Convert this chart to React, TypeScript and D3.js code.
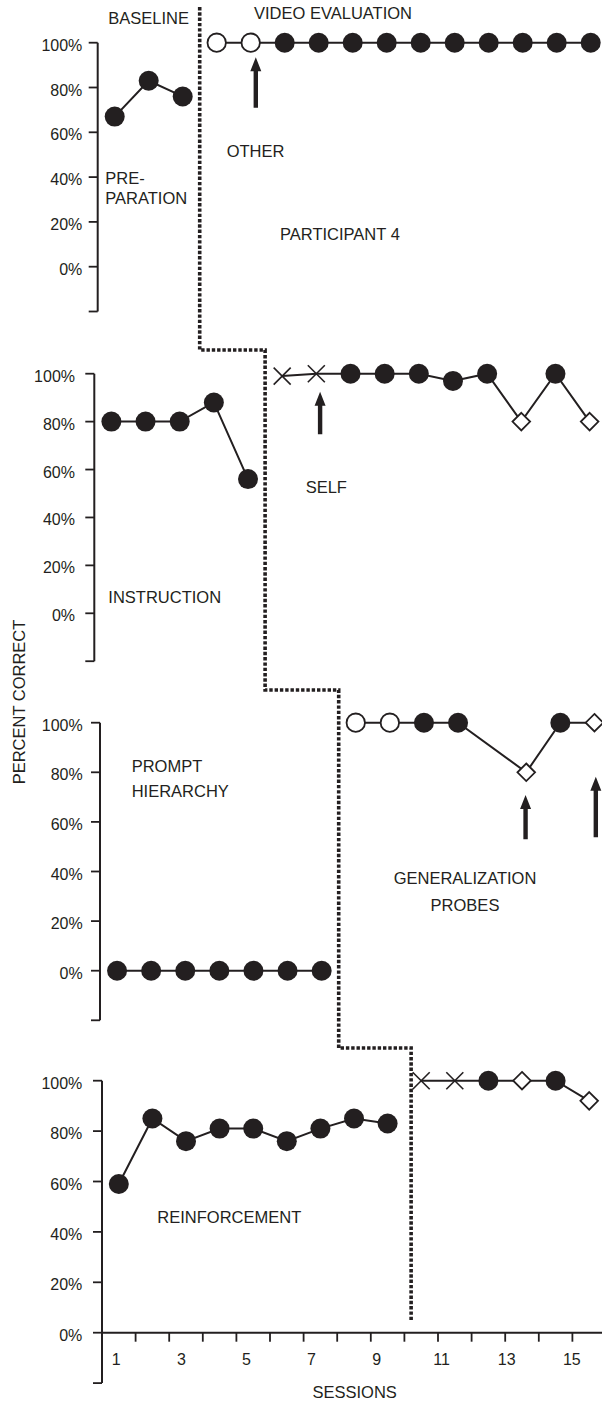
import React from "react";
import * as d3 from "d3";

// ---- Data -------------------------------------------------------------
const yTicks = [-20, 0, 20, 40, 60, 80, 100];
const yTickLabels = ["", "0%", "20%", "40%", "60%", "80%", "100%"];
const sessionTicks = d3.range(1, 17);
const sessionLabels = [1, 3, 5, 7, 9, 11, 13, 15];

// Preparation
const prepBaseSessions = [1, 2, 3];
const prepBaseValues = [67, 83, 76];
const prepTreatSessions = [4, 5, 6, 7, 8, 9, 10, 11, 12, 13, 14, 15];
const prepTreatValues = [100, 100, 100, 100, 100, 100, 100, 100, 100, 100, 100, 100];
const prepTreatMarkers = ["open", "open", "filled", "filled", "filled", "filled", "filled", "filled", "filled", "filled", "filled", "filled"];

// Instruction
const instrBaseSessions = [1, 2, 3, 4, 5];
const instrBaseValues = [80, 80, 80, 88, 56];
const instrTreatSessions = [6, 7, 8, 9, 10, 11, 12, 13, 14, 15];
const instrTreatValues = [99, 100, 100, 100, 100, 97, 100, 80, 100, 80];
const instrTreatMarkers = ["cross", "cross", "filled", "filled", "filled", "filled", "filled", "diamond", "filled", "diamond"];

// Prompt hierarchy
const promptBaseSessions = [1, 2, 3, 4, 5, 6, 7];
const promptBaseValues = [0, 0, 0, 0, 0, 0, 0];
const promptTreatSessions = [8, 9, 10, 11, 13, 14, 15];
const promptTreatValues = [100, 100, 100, 100, 80, 100, 100];
const promptTreatMarkers = ["open", "open", "filled", "filled", "diamond", "filled", "diamond"];

// Reinforcement
const reinfBaseSessions = [1, 2, 3, 4, 5, 6, 7, 8, 9];
const reinfBaseValues = [59, 85, 76, 81, 81, 76, 81, 85, 83];
const reinfTreatSessions = [10, 11, 12, 13, 14, 15];
const reinfTreatValues = [100, 100, 100, 100, 100, 92];
const reinfTreatMarkers = ["cross", "cross", "filled", "diamond", "filled", "diamond"];

// Arrows marking probe / evaluation points: [session, from %, to %]
const prepArrows = [[5.15, 71, 93.5]];
const instrArrows = [[7.11, 74.7, 92.5]];
const promptArrows = [[12.98, 53, 70.8], [15.04, 53.8, 78.2]];
const reinfArrows: number[][] = [];

// Phase change position (session boundary) per panel
const phaseChange = [3.5, 5.5, 7.5, 9.7];

// ---- Layout -----------------------------------------------------------
const W = 602;
const H = 1404;
const INK = "#231f20";
const FONT = "'Liberation Sans', Arial, Helvetica, sans-serif";

type Panel = {
  axisX: number;
  step: number;
  y100: number;
  y0: number;
  labelRight: number;
  baseS: number[];
  baseV: number[];
  treatS: number[];
  treatV: number[];
  treatM: string[];
  arrows: number[][];
  phase: number;
  top: number;
  bottom: number;
};

const panels: Panel[] = [
  { axisX: 97.7, step: 34.0, y100: 42.7, y0: 266.7, labelRight: 82.3,
    baseS: prepBaseSessions, baseV: prepBaseValues, treatS: prepTreatSessions, treatV: prepTreatValues, treatM: prepTreatMarkers,
    arrows: prepArrows, phase: phaseChange[0], top: 7, bottom: 350 },
  { axisX: 94.3, step: 34.16, y100: 373.7, y0: 613.3, labelRight: 75,
    baseS: instrBaseSessions, baseV: instrBaseValues, treatS: instrTreatSessions, treatV: instrTreatValues, treatM: instrTreatMarkers,
    arrows: instrArrows, phase: phaseChange[1], top: 350, bottom: 690 },
  { axisX: 100, step: 34.1, y100: 722.7, y0: 970.7, labelRight: 82.7,
    baseS: promptBaseSessions, baseV: promptBaseValues, treatS: promptTreatSessions, treatV: promptTreatValues, treatM: promptTreatMarkers,
    arrows: promptArrows, phase: phaseChange[2], top: 690, bottom: 1048 },
  { axisX: 102, step: 33.6, y100: 1080.7, y0: 1332.7, labelRight: 82.3,
    baseS: reinfBaseSessions, baseV: reinfBaseValues, treatS: reinfTreatSessions, treatV: reinfTreatValues, treatM: reinfTreatMarkers,
    arrows: reinfArrows, phase: phaseChange[3], top: 1048, bottom: 1322 },
];

const scalesFor = (p: Panel) => ({
  x: d3.scaleLinear().domain([0.5, 15.5]).range([p.axisX, p.axisX + 15 * p.step]),
  y: d3.scaleLinear().domain([0, 100]).range([p.y0, p.y100]),
});

function Marker({ type, cx, cy }: { type: string; cx: number; cy: number }) {
  if (type === "filled") return <circle cx={cx} cy={cy} r={10} fill={INK} />;
  if (type === "open")
    return <circle cx={cx} cy={cy} r={9.2} fill="#fff" stroke={INK} strokeWidth={1.8} />;
  if (type === "diamond") {
    const d = 8.8;
    return (
      <path
        d={`M${cx},${cy - d}L${cx + d},${cy}L${cx},${cy + d}L${cx - d},${cy}Z`}
        fill="#fff"
        stroke={INK}
        strokeWidth={1.8}
      />
    );
  }
  const c = 8.5;
  return (
    <g stroke={INK} strokeWidth={1.6}>
      <line x1={cx - c} y1={cy - c} x2={cx + c} y2={cy + c} />
      <line x1={cx - c} y1={cy + c} x2={cx + c} y2={cy - c} />
    </g>
  );
}

function Arrow({ x, yFrom, yTo }: { x: number; yFrom: number; yTo: number }) {
  const headLen = 14;
  const headHalf = 5.5;
  const shaftHalf = 2.2;
  const d = `M${x - shaftHalf},${yFrom}L${x - shaftHalf},${yTo + headLen}L${x - headHalf},${yTo + headLen}L${x},${yTo}L${x + headHalf},${yTo + headLen}L${x + shaftHalf},${yTo + headLen}L${x + shaftHalf},${yFrom}Z`;
  return <path d={d} fill={INK} />;
}

function PanelView({ p, last }: { p: Panel; last: boolean }) {
  const { x, y } = scalesFor(p);
  const line = d3
    .line<[number, number]>()
    .x((d) => x(d[0]))
    .y((d) => y(d[1]));
  const base: [number, number][] = p.baseS.map((s, i) => [s, p.baseV[i]]);
  const treat: [number, number][] = p.treatS.map((s, i) => [s, p.treatV[i]]);
  return (
    <g>
      {/* y axis */}
      <line x1={p.axisX} x2={p.axisX} y1={y(100)} y2={y(-20)} stroke={INK} strokeWidth={2} />
      {yTicks.map((t, i) => (
        <g key={t}>
          <line x1={p.axisX - 9} x2={p.axisX} y1={y(t)} y2={y(t)} stroke={INK} strokeWidth={1.8} />
          <text x={p.labelRight} y={y(t) + 8} textAnchor="end" fontSize={16} fill={INK}>
            {yTickLabels[i]}
          </text>
        </g>
      ))}
      {last && (
        <g>
          <line x1={p.axisX} x2={W} y1={y(0)} y2={y(0)} stroke={INK} strokeWidth={2} />
          {sessionTicks.slice(1).map((s) => (
            <line key={s} x1={x(s - 0.5)} x2={x(s - 0.5)} y1={y(0)} y2={y(0) + 9} stroke={INK} strokeWidth={1.8} />
          ))}
        </g>
      )}
      {/* data paths */}
      <path d={line(base) || ""} fill="none" stroke={INK} strokeWidth={2} />
      <path d={line(treat) || ""} fill="none" stroke={INK} strokeWidth={2} />
      {base.map(([s, v]) => (
        <Marker key={`b${s}`} type="filled" cx={x(s)} cy={y(v)} />
      ))}
      {treat.map(([s, v], i) => (
        <Marker key={`t${s}`} type={p.treatM[i]} cx={x(s)} cy={y(v)} />
      ))}
      {p.arrows.map((a, i) => (
        <Arrow key={i} x={x(a[0])} yFrom={y(a[1])} yTo={y(a[2])} />
      ))}
    </g>
  );
}

export default function App() {
  // staircase phase-change line through all four panels
  const stairs: [number, number][] = [];
  panels.forEach((p) => {
    const px = scalesFor(p).x(p.phase);
    stairs.push([px, p.top]);
    stairs.push([px, p.bottom]);
  });
  const stairPath = d3.line()(stairs) || "";

  const last = panels[3];
  const sessionLabelX = d3.scaleLinear().domain([1, 15]).range([116.3, 571.8]);
  const labelY = scalesFor(last).y(0) + 32.3;

  return (
    <svg
      width={W}
      height={H}
      style={{ position: "absolute", left: 0, top: 0, background: "#fff" }}
      fontFamily={FONT}
    >
      <rect width={W} height={H} fill="#fff" />
      {panels.map((p, i) => (
        <PanelView key={i} p={p} last={i === 3} />
      ))}
      <path d={stairPath} fill="none" stroke={INK} strokeWidth={3.6} strokeDasharray="3.4 1.9" />

      {sessionLabels.map((s) => (
        <text key={s} x={sessionLabelX(s)} y={labelY} textAnchor="middle" fontSize={16} fill={INK}>
          {s}
        </text>
      ))}

      <g fontSize={16.5} fill={INK}>
        <text x={108.3} y={24.3}>BASELINE</text>
        <text x={254} y={19.3}>VIDEO EVALUATION</text>
        <text x={226.7} y={157.3}>OTHER</text>
        <text x={105.3} y={184.3}>PRE-</text>
        <text x={105.3} y={204}>PARATION</text>
        <text x={280} y={240}>PARTICIPANT 4</text>
        <text x={108.3} y={603.3}>INSTRUCTION</text>
        <text x={305.7} y={493.3}>SELF</text>
        <text transform="translate(25,702) rotate(-90)" textAnchor="middle">PERCENT CORRECT</text>
        <text x={131.7} y={772.3}>PROMPT</text>
        <text x={131.7} y={797.3}>HIERARCHY</text>
        <text x={465} y={884} textAnchor="middle">GENERALIZATION</text>
        <text x={465} y={910.7} textAnchor="middle">PROBES</text>
        <text x={157.3} y={1222.7}>REINFORCEMENT</text>
        <text x={354.7} y={1397.7} textAnchor="middle">SESSIONS</text>
      </g>
    </svg>
  );
}
